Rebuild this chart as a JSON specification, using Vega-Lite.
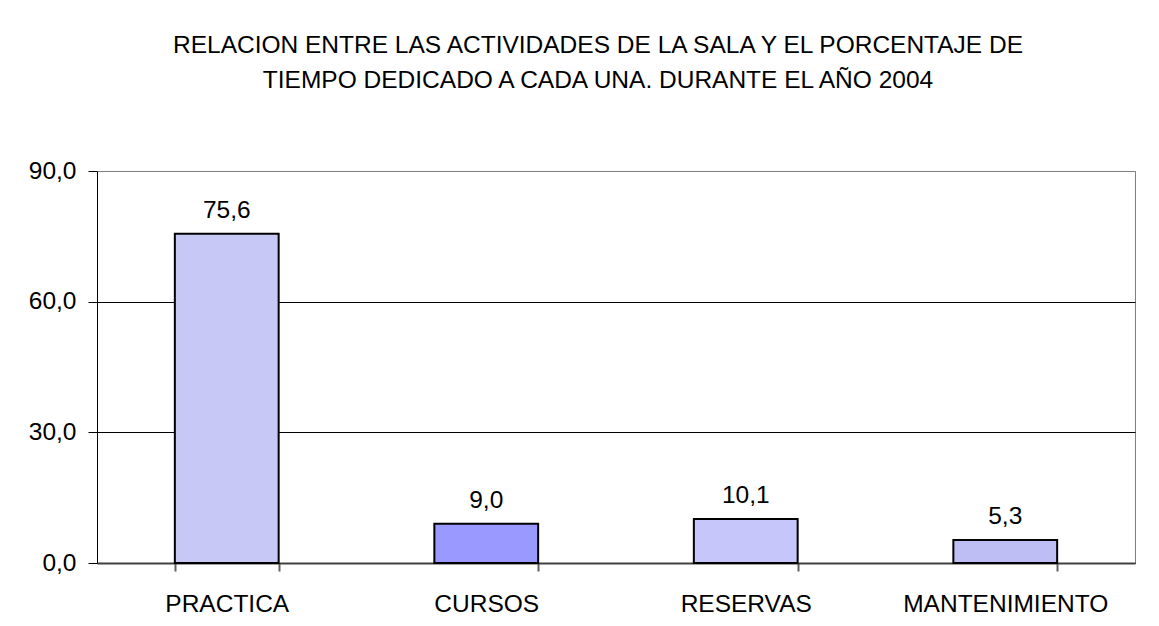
{
  "$schema": "https://vega.github.io/schema/vega-lite/v6.json",
  "autosize": {"type": "none"},
  "width": 1038,
  "height": 392,
  "padding": {"left": 97, "top": 171, "right": 24, "bottom": 63},
  "background": "white",
  "config": {
    "locale": {"number": {"decimal": ",", "thousands": ".", "grouping": [3], "currency": ["", " €"]}},
    "font": "Liberation Sans",
    "view": {"stroke": "#808080", "strokeWidth": 1}
  },
  "title": {
    "text": ["RELACION ENTRE LAS ACTIVIDADES DE LA SALA Y EL PORCENTAJE DE", "TIEMPO DEDICADO A CADA UNA. DURANTE EL AÑO 2004"],
    "font": "Liberation Sans",
    "fontSize": 24.5,
    "fontWeight": "normal",
    "color": "black",
    "lineHeight": 35,
    "anchor": "middle",
    "frame": "group",
    "dx": -18,
    "offset": 65
  },
  "data": {
    "values": [
      {"actividad": "PRACTICA", "porcentaje": 75.6},
      {"actividad": "CURSOS", "porcentaje": 9.0},
      {"actividad": "RESERVAS", "porcentaje": 10.1},
      {"actividad": "MANTENIMIENTO", "porcentaje": 5.3}
    ]
  },
  "encoding": {
    "x": {
      "field": "actividad",
      "type": "nominal",
      "sort": null,
      "title": null,
      "scale": {"paddingInner": 0.6, "paddingOuter": 0.3},
      "axis": {
        "labelAngle": 0,
        "labelFontSize": 24.5,
        "labelColor": "black",
        "labelPadding": 21,
        "labelLimit": 0,
        "tickBand": "extent",
        "tickSize": 8,
        "tickColor": "#606060",
        "tickWidth": 2,
        "domainColor": "#404040",
        "domainWidth": 2,
        "grid": false
      }
    },
    "y": {
      "field": "porcentaje",
      "type": "quantitative",
      "title": null,
      "scale": {"domain": [0, 90], "nice": false},
      "axis": {
        "values": [0, 30, 60, 90],
        "format": ".1f",
        "labelFontSize": 24.5,
        "labelColor": "black",
        "labelPadding": 12,
        "tickSize": 9,
        "tickColor": "black",
        "domainColor": "black",
        "grid": true,
        "gridColor": {"condition": {"test": "datum.value == 90", "value": "#808080"}, "value": "black"},
        "gridOpacity": 1
      }
    }
  },
  "layer": [
    {
      "mark": {"type": "bar", "stroke": "black", "strokeWidth": 2},
      "encoding": {
        "fill": {
          "field": "actividad",
          "type": "nominal",
          "legend": null,
          "scale": {
            "domain": ["PRACTICA", "CURSOS", "RESERVAS", "MANTENIMIENTO"],
            "range": ["#c8c8f7", "#9999ff", "#c6c6fb", "#bebef5"]
          }
        }
      }
    },
    {
      "mark": {"type": "text", "baseline": "bottom", "dy": -11, "fontSize": 24.5, "color": "black"},
      "encoding": {
        "text": {"field": "porcentaje", "type": "quantitative", "format": ".1f"}
      }
    }
  ]
}
